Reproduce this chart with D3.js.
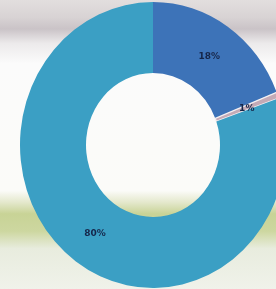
<!DOCTYPE html>
<html>
<head>
<meta charset="utf-8">
<script src="https://cdn.jsdelivr.net/npm/d3@7"></script>
<style>
  body { margin: 0; }
  svg { display: block; }
</style>
</head>
<body>
<svg id="canvas" width="276" height="289"></svg>
<script>
const categories = ["A", "B", "C"];
const values = [19.0, 0.7, 80.3];
const labels = ["18%", "1%", "80%"];
const colors = ["#3e73b8", "#c4aab6", "#3a9fc4"];

const width = 276, height = 289;
const cx = 153, cy = 145;
const outerR = 133, innerR = 67;

const svg = d3.select("#canvas");
const defs = svg.append("defs");

// blurry photo behind the chart
const bg = defs.append("linearGradient")
  .attr("id", "bg").attr("x1", 0).attr("y1", 0).attr("x2", 0).attr("y2", 1);
[
  [0, "#e2dede"], [0.06, "#d8d3d4"], [0.1, "#cac3c7"], [0.15, "#eceaeb"],
  [0.22, "#fbfbfb"], [0.66, "#fbfbf8"], [0.7, "#e4e8cc"], [0.74, "#c8d396"],
  [0.8, "#cdd7a0"], [0.86, "#e8ecde"], [1, "#f0f2ea"]
].forEach(([o, c]) => bg.append("stop").attr("offset", o).attr("stop-color", c));

defs.append("filter").attr("id", "soft")
  .append("feGaussianBlur").attr("stdDeviation", 0.6);

svg.append("rect")
  .attr("width", width).attr("height", height)
  .attr("fill", "url(#bg)");

const pie = d3.pie().sort(null).value((d) => d);
const arc = d3.arc().innerRadius(innerR).outerRadius(outerR);
const labelArc = d3.arc().innerRadius(100).outerRadius(100);

const g = svg.append("g")
  .attr("transform", `translate(${cx},${cy}) scale(1,1.075)`)
  .attr("filter", "url(#soft)");

const arcs = pie(values);

g.selectAll("path")
  .data(arcs)
  .enter()
  .append("path")
  .attr("d", arc)
  .attr("fill", (d, i) => colors[i])
  .attr("stroke", (d, i) => (i === 1 ? "#f4f0f2" : "none"))
  .attr("stroke-width", 1.2)
  .attr("data-category", (d, i) => categories[i]);

g.selectAll("text")
  .data(arcs)
  .enter()
  .append("text")
  .attr("transform", (d) => {
    const [x, y] = labelArc.centroid(d);
    return `translate(${x},${y}) scale(1,${1 / 1.075})`;
  })
  .attr("text-anchor", "middle")
  .attr("dy", "0.35em")
  .attr("font-family", "DejaVu Sans, sans-serif")
  .attr("font-size", 9)
  .attr("font-weight", "bold")
  .attr("fill", "#17264a")
  .text((d, i) => labels[i]);
</script>
</body>
</html>
